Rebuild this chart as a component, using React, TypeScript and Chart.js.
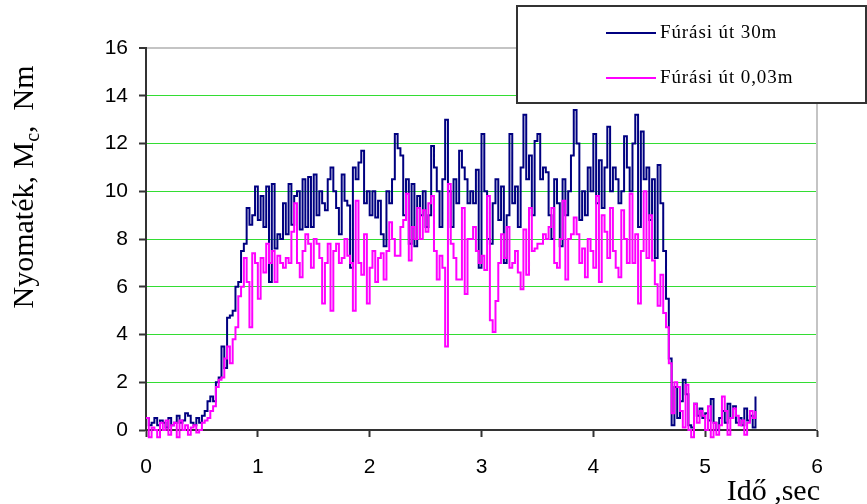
import React, { useEffect, useRef } from "react";
import { Chart, registerables } from "chart.js";

Chart.register(...registerables);

// ---- data (time step 0.025 s) ----
const seriesLabels = ["Fúrási út 30m", "Fúrási út 0,03m"];
const seriesColors = ["#000080", "#ff00ff"];
const xTickValues = [0, 1, 2, 3, 4, 5, 6];
const yTickValues = [0, 2, 4, 6, 8, 10, 12, 14, 16];
const xTitle = "Idő ,sec";
const yTitleMain = "Nyomaték, M";
const yTitleSub = "c";
const yTitleEnd = ",  Nm";
const sampleStep = 0.025;

const torque30m = [
  0.5, 0.2, 0.3, 0.5, 0.2, 0.4, 0.3, 0.1, 0.5, 0.2, 0.3, 0.6, 0.3, 0.4, 0.7, 0.6, 0.3, 0.2, 0.5, 0.3, 0.6, 0.8,
  1.2, 1.4, 1.2, 2.0, 2.2, 3.5, 2.6, 4.7, 4.8, 5.0, 6.0, 6.2, 7.5, 7.8, 9.3, 8.6, 9.0, 10.2, 8.8, 9.8, 8.5, 10.2,
  6.2, 10.3, 7.6, 8.2, 8.0, 9.5, 8.2, 10.3, 8.6, 9.8, 10.0, 8.4, 10.5, 8.5, 10.6, 8.5, 10.7, 9.0, 10.0, 9.5,
  9.2, 10.5, 11.0, 10.0, 9.3,
  8.2, 10.7, 9.6, 9.4, 6.8, 11.0, 10.5, 11.2, 11.7, 9.5, 10.0, 9.0, 10.0, 8.9, 9.6, 8.2, 7.7, 10.0, 9.5, 10.5,
  12.4, 11.8, 11.5, 9.0, 10.5, 7.8, 10.3, 7.7, 9.8, 9.0, 10.0, 8.5, 9.0, 11.9, 11.0, 10.0, 8.5, 10.5, 13.0, 10.0,
  8.5, 10.5, 9.5, 11.7, 11.0, 10.5, 9.5, 10.0, 9.5, 10.9, 6.8, 12.4, 10.0, 8.0, 7.8, 9.5, 10.5, 8.8, 10.2, 7.0,
  9.0, 12.4, 9.5, 10.2, 8.5, 11.0, 13.2, 10.5, 11.5, 9.0, 12.1, 12.4, 10.5, 11.0, 10.8, 9.0, 8.0, 10.5, 9.5, 7.7,
  10.5, 9.0, 10.0, 11.5, 13.4, 12.0, 8.8, 10.0, 9.0, 11.0, 10.0, 12.4, 9.5, 11.3, 9.3, 11.0, 12.7, 10.0, 11.0,
  10.5, 9.5, 10.0, 12.3, 11.0, 10.0, 12.0, 13.2, 8.5, 12.5, 10.5, 11.0, 8.8, 10.5, 7.2, 11.1, 9.5, 7.5, 5.5, 3.0,
  0.2, 1.8, 0.5, 1.2, 2.1, 1.5, 0.2, 0.1, 1.1, 0.6, 0.9, 0.5, 0.7, 0.4, 1.3, 0.3, 0.0, 0.5, 0.8, 0.3, 1.1, 0.5,
  1.0, 0.3, 0.5, 0.2, 0.9, 0.4, 0.6, 0.1, 1.4,
];

const torque003m = [
  0.5, -0.3, 0.1, 0.0, -0.3, 0.3, 0.0, 0.4, -0.2, 0.2, 0.3, -0.3, 0.4, 0.0, 0.2, -0.2, 0.1, 0.2, -0.1, 0.0, 0.3, 0.4,
  0.5, 0.8, 1.0, 1.8, 2.1, 2.2, 3.0, 3.5, 2.8, 3.8, 4.3, 5.6, 6.0, 7.2, 6.2, 4.3, 7.4, 7.0, 5.5, 7.2, 6.6, 7.8,
  7.0, 7.5, 6.2, 7.3, 7.0, 6.8, 7.2, 7.0, 8.3, 9.5, 7.0, 6.4, 7.5, 8.2, 7.8, 6.8, 8.0, 7.8, 7.2, 5.3, 7.0, 7.8,
  5.0, 7.5, 7.8,
  7.0, 7.2, 8.0, 7.3, 7.0, 5.0, 9.6, 7.0, 6.5, 8.2, 5.3, 6.8, 7.5, 6.2, 7.2, 7.4, 6.3, 7.5, 8.7, 8.0, 7.3, 7.3,
  8.5, 8.8, 9.9, 7.1, 8.5, 8.0, 9.3, 8.0, 9.2, 8.3, 9.5, 9.8, 7.5, 6.3, 7.3, 6.8, 3.5, 10.3, 7.8, 7.2, 6.3, 6.3,
  9.3, 5.7, 8.0, 8.0, 8.5, 7.5, 7.0, 7.3, 6.7, 9.8, 4.6, 4.1, 5.4, 7.0, 8.2, 7.2, 8.5, 6.8, 7.0, 7.5, 6.6, 5.9,
  8.4, 6.5, 9.3, 7.5, 7.6, 7.8, 7.8, 8.2, 8.0, 8.5, 9.3, 7.0, 6.8, 8.0, 9.6, 6.3, 8.0, 8.2, 8.9, 8.2, 7.0, 7.6,
  6.4, 8.0, 7.5, 6.8, 9.8, 6.2, 9.0, 8.3, 7.2, 9.3, 7.5, 6.8, 6.4, 9.2, 8.0, 7.0, 9.9, 7.0, 8.2, 5.3, 7.5, 10.0,
  7.2, 9.0, 7.1, 6.1, 5.2, 6.5, 4.9, 4.3, 2.8, 0.7, 2.0, 1.8, 0.8, 0.1, 1.9, 0.0, -0.3, 1.1, 0.3, 0.8, 0.6, 0.0,
  1.0, -0.3, 0.3, -0.2, 0.2, 1.4, 0.8, -0.2, 0.5, 0.9, 0.6, 0.2, 0.4, -0.2, 0.3, 0.8, 0.5, 0.8,
];

const seriesValues = [torque30m, torque003m];

const decorPlugin = {
  id: "decor",
  beforeDatasetsDraw(chart: any) {
    const { ctx, chartArea } = chart;
    ctx.save();
    ctx.strokeStyle = "#c4c4c4";
    ctx.lineWidth = 2;
    ctx.beginPath();
    ctx.moveTo(chartArea.right, chartArea.top);
    ctx.lineTo(chartArea.right, chartArea.bottom);
    ctx.stroke();
    ctx.restore();
  },
  afterDraw(chart: any) {
    const { ctx, chartArea } = chart;
    ctx.save();
    // y title with subscript
    ctx.translate(33, 187);
    ctx.rotate(-Math.PI / 2);
    ctx.fillStyle = "#000";
    ctx.textBaseline = "alphabetic";
    const big = "30px 'Liberation Serif'";
    const small = "20px 'Liberation Serif'";
    ctx.font = big;
    const w1 = ctx.measureText(yTitleMain).width;
    const w3 = ctx.measureText(yTitleEnd).width;
    ctx.font = small;
    const w2 = ctx.measureText(yTitleSub).width;
    let x = -(w1 + w2 + w3) / 2;
    ctx.font = big;
    ctx.textAlign = "left";
    ctx.fillText(yTitleMain, x, 0);
    x += w1;
    ctx.font = small;
    ctx.fillText(yTitleSub, x, 6);
    x += w2;
    ctx.font = big;
    ctx.fillText(yTitleEnd, x, 0);
    ctx.restore();

    // x title
    ctx.save();
    ctx.font = "30px 'Liberation Serif'";
    ctx.fillStyle = "#000";
    ctx.textAlign = "right";
    ctx.textBaseline = "alphabetic";
    ctx.fillText(xTitle, chartArea.right + 3, 500);
    ctx.restore();

    // legend box
    ctx.save();
    ctx.fillStyle = "#fff";
    ctx.fillRect(517, 6, 349, 97);
    ctx.strokeStyle = "#333";
    ctx.lineWidth = 2;
    ctx.strokeRect(517, 6, 349, 97);
    const rowsY = [33, 78];
    chart.data.datasets.forEach((ds: any, i: number) => {
      const y = rowsY[i];
      ctx.strokeStyle = ds.borderColor;
      ctx.lineWidth = 2;
      ctx.beginPath();
      ctx.moveTo(606, y);
      ctx.lineTo(656, y);
      ctx.stroke();
      ctx.fillStyle = "#000";
      ctx.font = "19px 'Liberation Serif'";
      (ctx as any).letterSpacing = "0.9px";
      ctx.textAlign = "left";
      ctx.textBaseline = "middle";
      ctx.fillText(ds.label, 660, y);
    });
    ctx.restore();
  },
};

export default function App() {
  const canvasRef = useRef<HTMLCanvasElement | null>(null);

  useEffect(() => {
    if (!canvasRef.current) return;
    const datasets = seriesValues.map((vals, s) => ({
      label: seriesLabels[s],
      data: vals.map((v, i) => ({ x: +(i * sampleStep).toFixed(3), y: v })),
      borderColor: seriesColors[s],
      backgroundColor: seriesColors[s],
      borderWidth: 2,
      pointRadius: 0,
      stepped: true as const,
      clip: false as any,
      order: s === 0 ? 1 : 0,
    }));

    const chart = new Chart(canvasRef.current, {
      type: "line",
      data: { datasets },
      options: {
        animation: false,
        responsive: false,
        events: [],
        layout: { padding: { top: 48, right: 50, bottom: 0, left: 0 } },
        plugins: { legend: { display: false }, tooltip: { enabled: false } },
        scales: {
          x: {
            type: "linear",
            min: 0,
            max: 6,
            afterFit: (scale: any) => {
              scale.height = 74;
            },
            afterBuildTicks: (scale: any) => {
              scale.ticks = xTickValues.map((v) => ({ value: v }));
            },
            ticks: {
              color: "#000",
              font: { family: "'Liberation Sans'", size: 21 },
              padding: 18,
              maxRotation: 0,
            },
            grid: {
              drawOnChartArea: false,
              drawTicks: true,
              tickLength: 7,
              tickColor: "#333",
              tickWidth: 2,
            },
            border: { color: "#333", width: 2 },
          },
          y: {
            type: "linear",
            min: 0,
            max: 16,
            afterFit: (scale: any) => {
              scale.width = 146;
            },
            afterBuildTicks: (scale: any) => {
              scale.ticks = yTickValues.map((v) => ({ value: v }));
            },
            ticks: {
              color: "#000",
              font: { family: "'Liberation Sans'", size: 21 },
              padding: 11,
            },
            grid: {
              color: (c: any) =>
                c.tick && c.tick.value === 16
                  ? "#c4c4c4"
                  : c.tick && c.tick.value === 0
                  ? "rgba(0,0,0,0)"
                  : "#33dd33",
              lineWidth: (c: any) => (c.tick && c.tick.value === 16 ? 2 : 1),
              drawTicks: true,
              tickLength: 7,
              tickColor: "#333",
              tickWidth: 2,
            },
            border: { color: "#333", width: 2 },
          },
        },
      },
      plugins: [decorPlugin],
    });
    return () => chart.destroy();
  }, []);

  return (
    <div style={{ position: "absolute", left: 0, top: 0, width: 867, height: 504, background: "#fff" }}>
      <canvas ref={canvasRef} width={867} height={504} style={{ display: "block" }} />
    </div>
  );
}
